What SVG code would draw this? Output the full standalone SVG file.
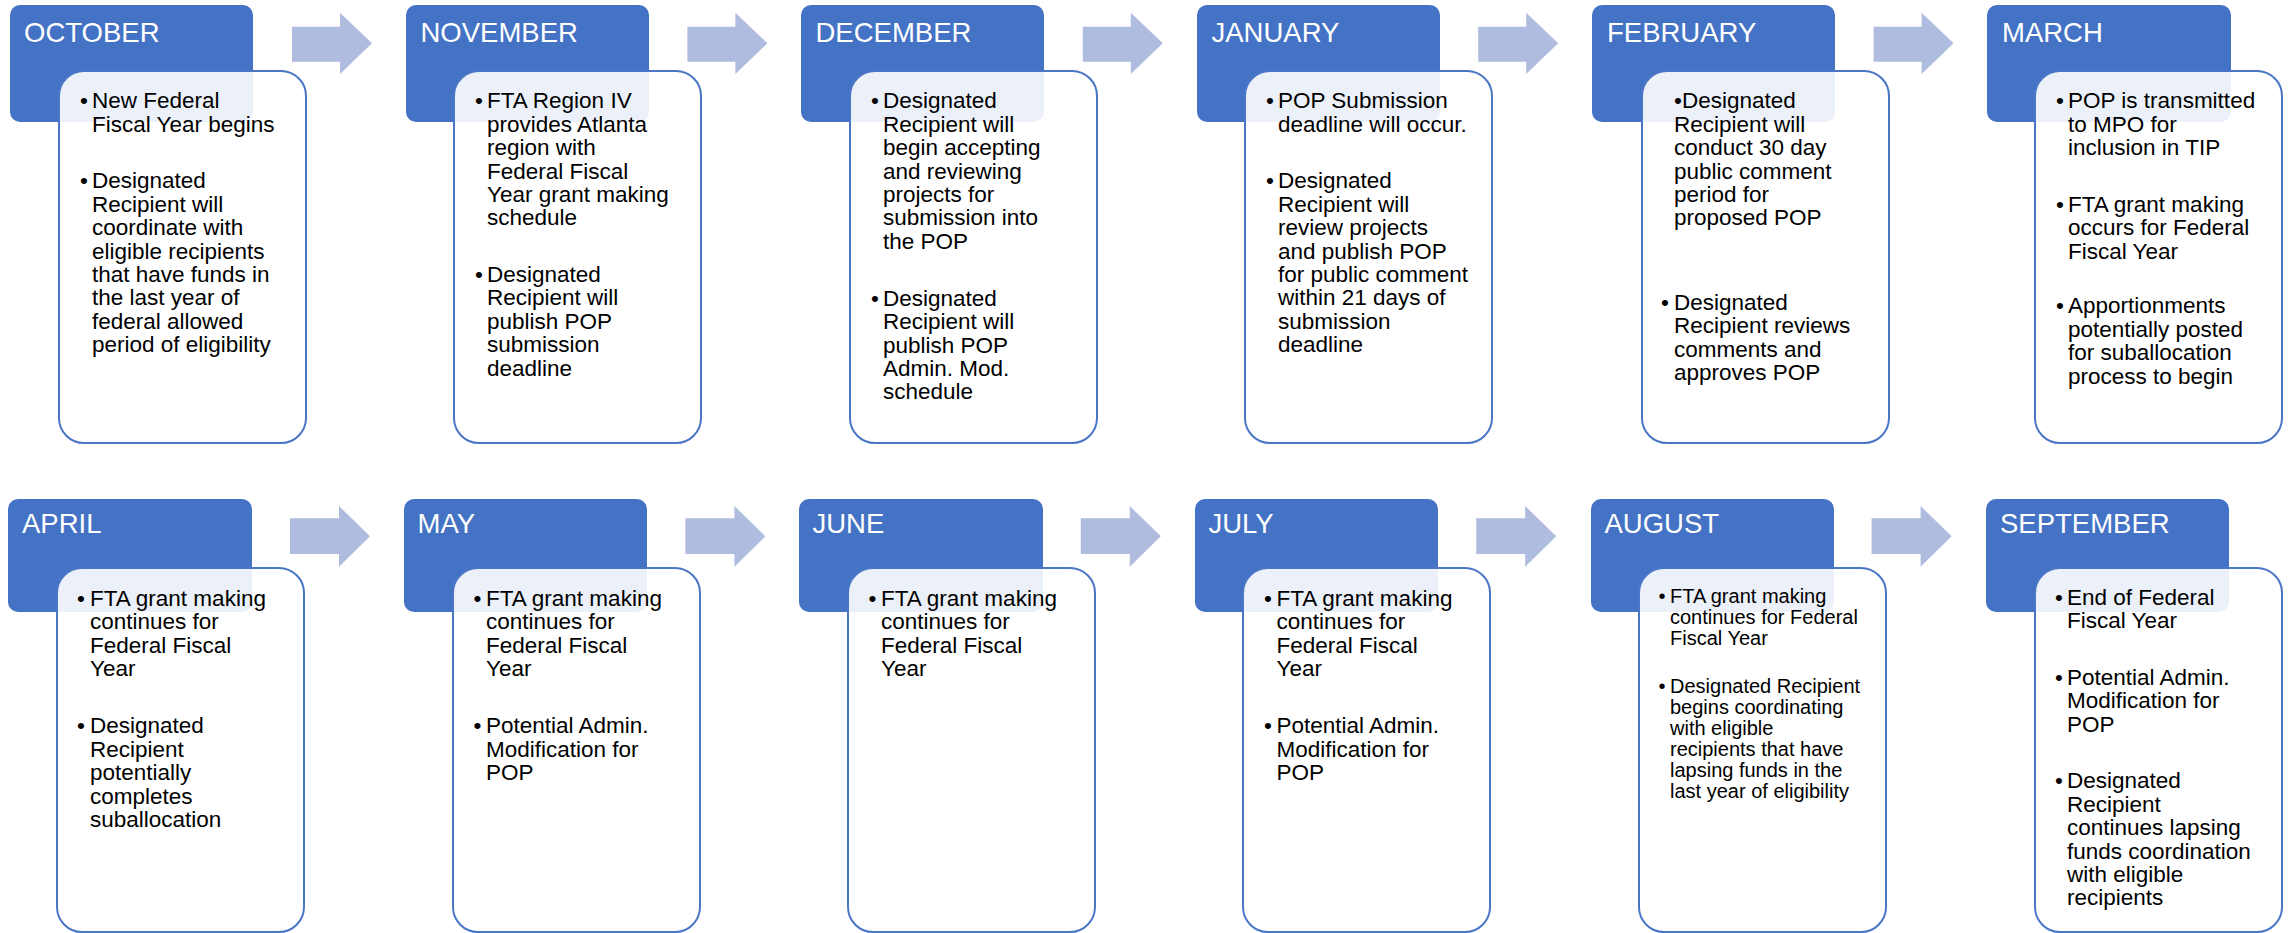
<svg xmlns="http://www.w3.org/2000/svg" width="2292" height="933" viewBox="0 0 2292 933">
<style>
.hdr{fill:#4472C4}
.card{fill:#FFFFFF;fill-opacity:0.9;stroke:#4A76C6;stroke-width:2}
.arr{fill:#B0BCDF}
.ht{font-family:"Liberation Sans",Arial,sans-serif;font-size:27.5px;fill:#FFFFFF}
.bt{font-family:"Liberation Sans",Arial,sans-serif;font-size:22.5px;fill:#000000}
.st{font-family:"Liberation Sans",Arial,sans-serif;font-size:20px;fill:#000000}
</style>
<rect width="2292" height="933" fill="#FFFFFF"/>
<g id="connectors">
<path class="arr" d="M292,26.7H340V12.7L372,43.3L340,74V61.7H292Z"/>
<path class="arr" d="M687.4,26.7H735.4V12.7L767.4,43.3L735.4,74V61.7H687.4Z"/>
<path class="arr" d="M1082.8,26.7H1130.8V12.7L1162.8,43.3L1130.8,74V61.7H1082.8Z"/>
<path class="arr" d="M1478.2,26.7H1526.2V12.7L1558.2,43.3L1526.2,74V61.7H1478.2Z"/>
<path class="arr" d="M1873.6,26.7H1921.6V12.7L1953.6,43.3L1921.6,74V61.7H1873.6Z"/>
<path class="arr" d="M290,518.3H339V506L370,536.3L339,566.7V554H290Z"/>
<path class="arr" d="M685.4,518.3H734.4V506L765.4,536.3L734.4,566.7V554H685.4Z"/>
<path class="arr" d="M1080.8,518.3H1129.8V506L1160.8,536.3L1129.8,566.7V554H1080.8Z"/>
<path class="arr" d="M1476.2,518.3H1525.2V506L1556.2,536.3L1525.2,566.7V554H1476.2Z"/>
<path class="arr" d="M1871.6,518.3H1920.6V506L1951.6,536.3L1920.6,566.7V554H1871.6Z"/>
</g>

<g id="october">
<rect class="hdr" x="10" y="5" width="243" height="117" rx="10"/>
<text class="ht" x="24" y="41.5">OCTOBER</text>
<rect class="card" x="59" y="71" width="247" height="372" rx="25"/>
<text class="bt" x="80" y="108.3">•</text>
<text class="bt" x="92" y="108.3">New Federal<tspan x="92" dy="23.4">Fiscal Year begins</tspan></text>
<text class="bt" x="80" y="188.3">•</text>
<text class="bt" x="92" y="188.3">Designated<tspan x="92" dy="23.4">Recipient will</tspan><tspan x="92" dy="23.4">coordinate with</tspan><tspan x="92" dy="23.4">eligible recipients</tspan><tspan x="92" dy="23.4">that have funds in</tspan><tspan x="92" dy="23.4">the last year of</tspan><tspan x="92" dy="23.4">federal allowed</tspan><tspan x="92" dy="23.4">period of eligibility</tspan></text>
</g>

<g id="november">
<rect class="hdr" x="406" y="5" width="243" height="117" rx="10"/>
<text class="ht" x="420.5" y="41.5">NOVEMBER</text>
<rect class="card" x="454" y="71" width="247" height="372" rx="25"/>
<text class="bt" x="475" y="108.3">•</text>
<text class="bt" x="487" y="108.3">FTA Region IV<tspan x="487" dy="23.4">provides Atlanta</tspan><tspan x="487" dy="23.4">region with</tspan><tspan x="487" dy="23.4">Federal Fiscal</tspan><tspan x="487" dy="23.4">Year grant making</tspan><tspan x="487" dy="23.4">schedule</tspan></text>
<text class="bt" x="475" y="282">•</text>
<text class="bt" x="487" y="282">Designated<tspan x="487" dy="23.4">Recipient will</tspan><tspan x="487" dy="23.4">publish POP</tspan><tspan x="487" dy="23.4">submission</tspan><tspan x="487" dy="23.4">deadline</tspan></text>
</g>

<g id="december">
<rect class="hdr" x="801" y="5" width="243" height="117" rx="10"/>
<text class="ht" x="815.5" y="41.5">DECEMBER</text>
<rect class="card" x="850" y="71" width="247" height="372" rx="25"/>
<text class="bt" x="871" y="108.3">•</text>
<text class="bt" x="883" y="108.3">Designated<tspan x="883" dy="23.4">Recipient will</tspan><tspan x="883" dy="23.4">begin accepting</tspan><tspan x="883" dy="23.4">and reviewing</tspan><tspan x="883" dy="23.4">projects for</tspan><tspan x="883" dy="23.4">submission into</tspan><tspan x="883" dy="23.4">the POP</tspan></text>
<text class="bt" x="871" y="305.8">•</text>
<text class="bt" x="883" y="305.8">Designated<tspan x="883" dy="23.4">Recipient will</tspan><tspan x="883" dy="23.4">publish POP</tspan><tspan x="883" dy="23.4">Admin. Mod.</tspan><tspan x="883" dy="23.4">schedule</tspan></text>
</g>

<g id="january">
<rect class="hdr" x="1197" y="5" width="243" height="117" rx="10"/>
<text class="ht" x="1211.5" y="41.5">JANUARY</text>
<rect class="card" x="1245" y="71" width="247" height="372" rx="25"/>
<text class="bt" x="1266" y="108.3">•</text>
<text class="bt" x="1278" y="108.3">POP Submission<tspan x="1278" dy="23.4">deadline will occur.</tspan></text>
<text class="bt" x="1266" y="188.3">•</text>
<text class="bt" x="1278" y="188.3">Designated<tspan x="1278" dy="23.4">Recipient will</tspan><tspan x="1278" dy="23.4">review projects</tspan><tspan x="1278" dy="23.4">and publish POP</tspan><tspan x="1278" dy="23.4">for public comment</tspan><tspan x="1278" dy="23.4">within 21 days of</tspan><tspan x="1278" dy="23.4">submission</tspan><tspan x="1278" dy="23.4">deadline</tspan></text>
</g>

<g id="february">
<rect class="hdr" x="1592" y="5" width="243" height="117" rx="10"/>
<text class="ht" x="1607" y="41.5">FEBRUARY</text>
<rect class="card" x="1642" y="71" width="247" height="372" rx="25"/>
<text class="bt" x="1674" y="108.3">•Designated<tspan x="1674" dy="23.4">Recipient will</tspan><tspan x="1674" dy="23.4">conduct 30 day</tspan><tspan x="1674" dy="23.4">public comment</tspan><tspan x="1674" dy="23.4">period for</tspan><tspan x="1674" dy="23.4">proposed POP</tspan></text>
<text class="bt" x="1661" y="310">•</text>
<text class="bt" x="1674" y="310">Designated<tspan x="1674" dy="23.4">Recipient reviews</tspan><tspan x="1674" dy="23.4">comments and</tspan><tspan x="1674" dy="23.4">approves POP</tspan></text>
</g>

<g id="march">
<rect class="hdr" x="1987" y="5" width="244" height="117" rx="10"/>
<text class="ht" x="2002" y="41.5">MARCH</text>
<rect class="card" x="2035" y="71" width="247" height="372" rx="25"/>
<text class="bt" x="2056" y="108.3">•</text>
<text class="bt" x="2068" y="108.3">POP is transmitted<tspan x="2068" dy="23.4">to MPO for</tspan><tspan x="2068" dy="23.4">inclusion in TIP</tspan></text>
<text class="bt" x="2056" y="211.7">•</text>
<text class="bt" x="2068" y="211.7">FTA grant making<tspan x="2068" dy="23.4">occurs for Federal</tspan><tspan x="2068" dy="23.4">Fiscal Year</tspan></text>
<text class="bt" x="2056" y="313.3">•</text>
<text class="bt" x="2068" y="313.3">Apportionments<tspan x="2068" dy="23.4">potentially posted</tspan><tspan x="2068" dy="23.4">for suballocation</tspan><tspan x="2068" dy="23.4">process to begin</tspan></text>
</g>

<g id="april">
<rect class="hdr" x="8" y="499" width="244" height="113" rx="10"/>
<text class="ht" x="22" y="532.5">APRIL</text>
<rect class="card" x="57" y="568" width="247" height="364" rx="25"/>
<text class="bt" x="77" y="606">•</text>
<text class="bt" x="90" y="606">FTA grant making<tspan x="90" dy="23.4">continues for</tspan><tspan x="90" dy="23.4">Federal Fiscal</tspan><tspan x="90" dy="23.4">Year</tspan></text>
<text class="bt" x="77" y="733.3">•</text>
<text class="bt" x="90" y="733.3">Designated<tspan x="90" dy="23.4">Recipient</tspan><tspan x="90" dy="23.4">potentially</tspan><tspan x="90" dy="23.4">completes</tspan><tspan x="90" dy="23.4">suballocation</tspan></text>
</g>

<g id="may">
<rect class="hdr" x="404" y="499" width="243" height="113" rx="10"/>
<text class="ht" x="417.5" y="532.5">MAY</text>
<rect class="card" x="453" y="568" width="247" height="364" rx="25"/>
<text class="bt" x="473.5" y="606">•</text>
<text class="bt" x="486" y="606">FTA grant making<tspan x="486" dy="23.4">continues for</tspan><tspan x="486" dy="23.4">Federal Fiscal</tspan><tspan x="486" dy="23.4">Year</tspan></text>
<text class="bt" x="473.5" y="733.3">•</text>
<text class="bt" x="486" y="733.3">Potential Admin.<tspan x="486" dy="23.4">Modification for</tspan><tspan x="486" dy="23.4">POP</tspan></text>
</g>

<g id="june">
<rect class="hdr" x="799" y="499" width="244" height="113" rx="10"/>
<text class="ht" x="812.5" y="532.5">JUNE</text>
<rect class="card" x="848" y="568" width="247" height="364" rx="25"/>
<text class="bt" x="868.5" y="606">•</text>
<text class="bt" x="881" y="606">FTA grant making<tspan x="881" dy="23.4">continues for</tspan><tspan x="881" dy="23.4">Federal Fiscal</tspan><tspan x="881" dy="23.4">Year</tspan></text>
</g>

<g id="july">
<rect class="hdr" x="1195" y="499" width="243" height="113" rx="10"/>
<text class="ht" x="1208.5" y="532.5">JULY</text>
<rect class="card" x="1243" y="568" width="247" height="364" rx="25"/>
<text class="bt" x="1264" y="606">•</text>
<text class="bt" x="1276.5" y="606">FTA grant making<tspan x="1276.5" dy="23.4">continues for</tspan><tspan x="1276.5" dy="23.4">Federal Fiscal</tspan><tspan x="1276.5" dy="23.4">Year</tspan></text>
<text class="bt" x="1264" y="733.3">•</text>
<text class="bt" x="1276.5" y="733.3">Potential Admin.<tspan x="1276.5" dy="23.4">Modification for</tspan><tspan x="1276.5" dy="23.4">POP</tspan></text>
</g>

<g id="august">
<rect class="hdr" x="1591" y="499" width="243" height="113" rx="10"/>
<text class="ht" x="1604.5" y="532.5">AUGUST</text>
<rect class="card" x="1639" y="568" width="247" height="364" rx="25"/>
<text class="st" x="1658.5" y="603.3">•</text>
<text class="st" x="1670" y="603.3">FTA grant making<tspan x="1670" dy="20.6">continues for Federal</tspan><tspan x="1670" dy="20.6">Fiscal Year</tspan></text>
<text class="st" x="1658.5" y="693.3">•</text>
<text class="st" x="1670" y="693.3">Designated Recipient<tspan x="1670" dy="21">begins coordinating</tspan><tspan x="1670" dy="21">with eligible</tspan><tspan x="1670" dy="21">recipients that have</tspan><tspan x="1670" dy="21">lapsing funds in the</tspan><tspan x="1670" dy="21">last year of eligibility</tspan></text>
</g>

<g id="september">
<rect class="hdr" x="1986" y="499" width="243" height="113" rx="10"/>
<text class="ht" x="2000" y="532.5">SEPTEMBER</text>
<rect class="card" x="2035" y="568" width="247" height="364" rx="25"/>
<text class="bt" x="2055" y="605">•</text>
<text class="bt" x="2067" y="605">End of Federal<tspan x="2067" dy="23.4">Fiscal Year</tspan></text>
<text class="bt" x="2055" y="685">•</text>
<text class="bt" x="2067" y="685">Potential Admin.<tspan x="2067" dy="23.4">Modification for</tspan><tspan x="2067" dy="23.4">POP</tspan></text>
<text class="bt" x="2055" y="788.3">•</text>
<text class="bt" x="2067" y="788.3">Designated<tspan x="2067" dy="23.4">Recipient</tspan><tspan x="2067" dy="23.4">continues lapsing</tspan><tspan x="2067" dy="23.4">funds coordination</tspan><tspan x="2067" dy="23.4">with eligible</tspan><tspan x="2067" dy="23.4">recipients</tspan></text>
</g>
</svg>
